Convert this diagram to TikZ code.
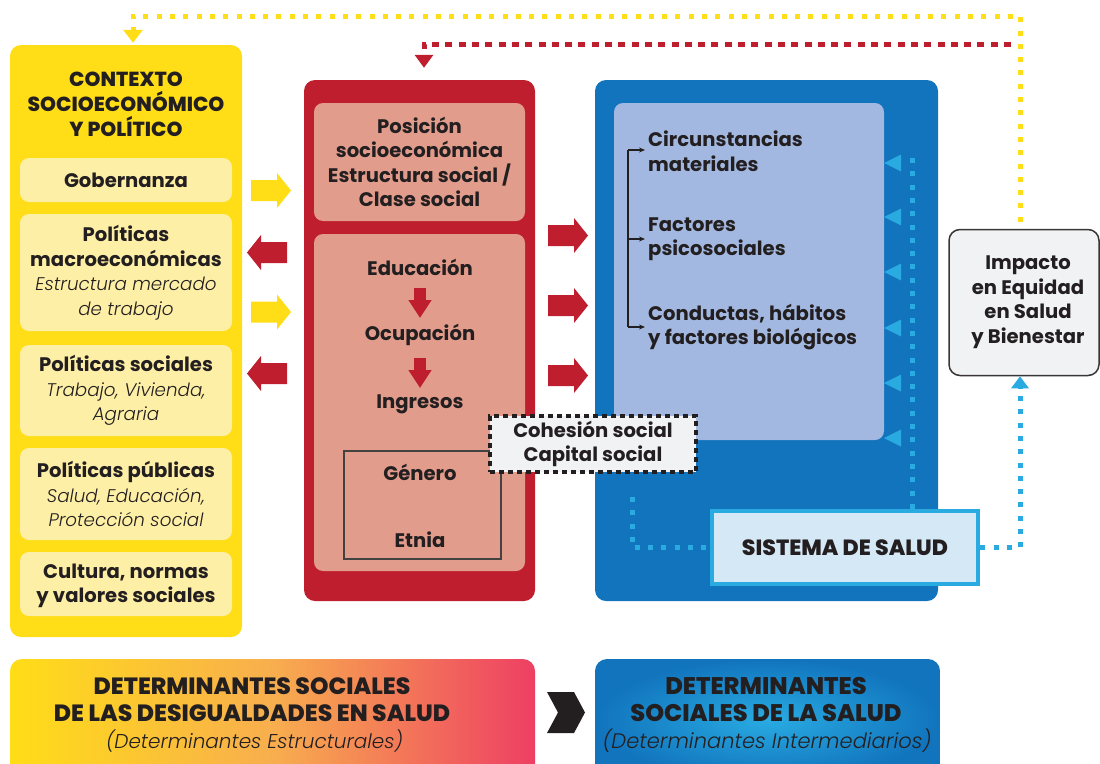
\documentclass[tikz,border=0pt]{standalone}
\usepackage{fontspec}
\setmainfont{Poppins}
\newfontfamily\heavyfont{Poppins ExtraBold}
\newfontfamily\lightit{Poppins Light Italic}
\usetikzlibrary{arrows.meta,shadings,calc}
\definecolor{cYellow}{HTML}{FFDD17}
\definecolor{cLYellow}{HTML}{FEEFA6}
\definecolor{cRed}{HTML}{BE1E2D}
\definecolor{cSalmon}{HTML}{E29C8C}
\definecolor{cBlue}{HTML}{1174BD}
\definecolor{cLBlue}{HTML}{A3B8E0}
\definecolor{cCyan}{HTML}{29ABE2}
\definecolor{cPale}{HTML}{D5E8F6}
\definecolor{cGrey}{HTML}{F1F2F3}
\definecolor{cInk}{HTML}{231F20}
\definecolor{cPink}{HTML}{EE3F63}
\definecolor{cOrange}{HTML}{F8AE4E}
\newcommand\itl{\lightit\mdseries\fontsize{18.3}{24.5}\selectfont}
\tikzset{
  box/.style={rectangle, inner sep=0pt, draw=none, rounded corners=11pt},
  lybox/.style={box, fill=cLYellow, minimum width=212pt, rounded corners=9pt},
  txt/.style={text=cInk, align=center, inner sep=0pt, font=\fontsize{19.6}{24.5}\selectfont\bfseries},
  ltxt/.style={txt, align=left},
  heavy/.style={text=cInk, align=center, inner sep=0pt, font=\fontsize{20.3}{25}\selectfont\heavyfont},
  barrow/.pic={\path[pic actions] (0,-10.5) -- (26,-10.5) -- (26,-17.5) -- (40,0) -- (26,17.5) -- (26,10.5) -- (0,10.5) -- cycle;},
  fatdown/.style={cRed, line width=12pt, -{Triangle[width=22pt,length=18pt]}},
  ydot/.style={cYellow, line width=5pt, dash pattern=on 5pt off 8.3pt},
  rdot/.style={cRed, line width=5pt, dash pattern=on 7pt off 6.3pt},
  bdot/.style={cCyan, line width=5pt, dash pattern=on 5pt off 8.3pt},
  bracketline/.style={cInk, line width=1.2pt},
}
\begin{document}
\begin{tikzpicture}[x=1pt,y=-1pt]
\useasboundingbox (0,0) rectangle (1100,763);
\clip (0,0) rectangle (1100,763);

% ---------- left: context ----------
\node[box, fill=cYellow, minimum width=232pt, minimum height=592pt] (ctx) at (126,341) {};
\node[heavy] (ctxt) at (126,104) {CONTEXTO\\SOCIOECONÓMICO\\Y POLÍTICO};
\node[lybox, minimum height=44pt] (gob) at (126,180) {};
\node[txt] at (gob) {Gobernanza};
\node[lybox, minimum height=117pt] (mac) at (126,272.5) {};
\node[txt] at (mac) {Políticas\\macroeconómicas\\{\itl Estructura mercado}\\{\itl de trabajo}};
\node[lybox, minimum height=91pt] (soc) at (126,390.5) {};
\node[txt] at (soc) {Políticas sociales\\{\itl Trabajo, Vivienda,}\\{\itl Agraria}};
\node[lybox, minimum height=92pt] (pub) at (126,494) {};
\node[txt] at (pub) {Políticas públicas\\{\itl Salud, Educación,}\\{\itl Protección social}};
\node[lybox, minimum height=64pt] (cul) at (126,584) {};
\node[txt] at (126,586) {Cultura, normas\\y valores sociales};

% ---------- block arrows ----------
\pic[fill=cYellow] at (251,190.5) {barrow};
\pic[fill=cRed, xscale=-1] at (287,252.5) {barrow};
\pic[fill=cYellow] at (251,312) {barrow};
\pic[fill=cRed, xscale=-1] at (287,373.5) {barrow};
\pic[fill=cRed] at (548,235.5) {barrow};
\pic[fill=cRed] at (548,305.5) {barrow};
\pic[fill=cRed] at (548,375.5) {barrow};

% ---------- middle: red ----------
\node[box, fill=cRed, minimum width=231pt, minimum height=521pt] (red) at (419.5,340.5) {};
\node[box, fill=cSalmon, minimum width=211pt, minimum height=118pt, rounded corners=9pt] (pos) at (419.5,162) {};
\node[txt] at (pos) {Posición\\socioeconómica\\Estructura social /\\Clase social};
\node[box, fill=cSalmon, minimum width=211pt, minimum height=337pt, rounded corners=9pt] (low) at (419.5,402.5) {};
\node[txt] (edu) at (420,267) {Educación};
\node[txt] (ocu) at (420,335) {Ocupación};
\node[txt] (ing) at (420,404) {Ingresos};
\draw[fatdown] ([yshift=-21pt]edu.center) -- ([yshift=17pt]ocu.center);
\draw[fatdown] ([yshift=-23pt]ocu.center) -- ([yshift=16pt]ing.center);
\node[draw=cInk!85, line width=1.2pt, inner sep=0pt, minimum width=157pt, minimum height=108pt] (ge) at (422.5,505) {};
\node[txt] (gen) at (420,472) {Género};
\node[txt] (etn) at (420,540) {Etnia};

% ---------- right: blue ----------
\node[box, fill=cBlue, minimum width=343pt, minimum height=521pt] (blu) at (766.5,340.5) {};
\node[box, fill=cLBlue, minimum width=270pt, minimum height=337pt, rounded corners=9pt] (lbl) at (749,271.5) {};
\node[ltxt, anchor=west] (cir) at (648,151) {Circunstancias\\materiales};
\node[ltxt, anchor=west] (fac) at (648,239) {Factores\\psicosociales};
\node[ltxt, anchor=west] (con) at (648,327) {Conductas, hábitos\\y factores biológicos};
\coordinate (br) at (628,0);
\draw[bracketline] ([yshift=1pt]cir.west -| br) -- (con.west -| br);
\draw[bracketline, -{Stealth[length=6pt,width=5pt]}, shorten >=3pt] ([yshift=1pt]cir.west -| br) -- ([yshift=1pt]cir.west);
\draw[bracketline, -{Stealth[length=6pt,width=5pt]}, shorten >=3pt] (fac.west -| br) -- (fac.west);
\draw[bracketline, -{Stealth[length=6pt,width=5pt]}, shorten >=3pt] (con.west -| br) -- (con.west);

% cohesion
\node[box, rounded corners=0pt, fill=cGrey, draw=cInk, line width=4pt, dash pattern=on 5pt off 4pt, minimum width=206pt, minimum height=56pt] (coh) at (593,444) {};
\node[txt] at (coh) {Cohesión social\\Capital social};

% sistema de salud
\node[box, rounded corners=0pt, fill=cPale, draw=cCyan, line width=4.5pt, minimum width=266pt, minimum height=73pt] (sis) at (845,547.5) {};
\node[heavy, font=\fontsize{22}{24}\selectfont\heavyfont] at (sis) {SISTEMA DE SALUD};

% impacto
\node[box, fill=cGrey, draw=cInk!90, line width=1.5pt, rounded corners=11pt, minimum width=150pt, minimum height=146pt] (imp) at (1024,302.5) {};
\node[txt] at (1028,302) {Impacto\\en Equidad\\en Salud\\y Bienestar};

% blue dotted feedback
\coordinate (bt) at (912,158);
\draw[bdot] (bt) -- (bt |- sis.north);
\foreach \yy in {163,217,272,328,383,438}{
  \fill[cCyan] (884,\yy) -- (901,\yy-8.5) -- (901,\yy+8.5) -- cycle;
}
\coordinate (bl) at (632,497);
\draw[bdot] (bl) |- (sis.west);
\coordinate (bx) at (1020,0);
\draw[bdot, -{Triangle[width=17pt,length=12pt]}] (sis.east) -| (bx |- imp.south);

% yellow dotted loop
\coordinate (yr) at (1020,16);
\coordinate (yl) at (133,16);
\draw[ydot, -{Triangle[width=19pt,length=13pt]}, shorten <=7pt, shorten >=2pt] (yr |- imp.north) -- (yr) -- (yl) -- (yl |- ctx.north);

% red dotted loop
\coordinate (rs) at (1011,44);
\coordinate (rc) at (424,44);
\draw[rdot, -{Triangle[width=18pt,length=13pt]}, shorten >=12pt] (rs) -- (rc) -- (rc |- red.north);

% ---------- bottom banners ----------
\shade[left color=cYellow, right color=cPink, middle color=cOrange, rounded corners=12pt] (10,659) rectangle (535,780);
\node[heavy, font=\fontsize{23.5}{27}\selectfont\heavyfont] (dl) at (252,699.5) {DETERMINANTES SOCIALES\\DE LAS DESIGUALDADES EN SALUD};
\node[text=cInk, inner sep=0pt, font=\fontsize{20}{24}\selectfont\lightit] at (254.5,741) {(Determinantes Estructurales)};
\fill[cInk] (547,692) -- (574,692) -- (585,712.5) -- (574,733) -- (547,733) -- (558,712.5) -- cycle;
\shade[inner color=cCyan, outer color=cBlue, rounded corners=12pt] (595,659) rectangle (940,780);
\node[heavy, font=\fontsize{24}{27}\selectfont\heavyfont] (dr) at (766,699.5) {DETERMINANTES\\SOCIALES DE LA SALUD};
\node[text=cInk, inner sep=0pt, font=\fontsize{21}{24}\selectfont\lightit] at (767,741) {(Determinantes Intermediarios)};
\end{tikzpicture}
\end{document}
